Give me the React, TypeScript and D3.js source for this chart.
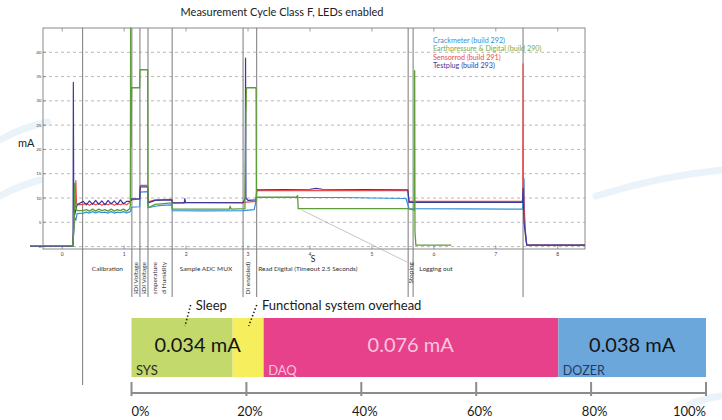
import React, { useEffect, useRef } from "react";
import * as d3 from "d3";

// DATA (time in s, current in mA)
const crackmeter: [number, number][] = [
  [-0.52, 0.15], [0.17, 0.15], [0.19, 3.5], [0.2, 6.0], [0.22, 5.4], [0.24, 6.8], [0.34, 6.9],
  [0.39, 7.1], [0.44, 6.9], [0.49, 7.2], [0.54, 6.9], [0.59, 7.2], [0.64, 7.0], [0.69, 7.1],
  [0.74, 6.9], [0.79, 7.2], [0.84, 6.9], [0.89, 7.1], [0.94, 7.0], [0.99, 7.2], [1.04, 6.9],
  [1.1, 7.2], [1.12, 8.1], [1.25, 8.2], [1.26, 11.2], [1.38, 11.3], [1.39, 8.0], [1.5, 8.3],
  [1.6, 8.5], [1.77, 8.6], [1.78, 7.4], [2.3, 7.35], [2.92, 7.4], [3.1, 7.6], [3.14, 10.1],
  [4.5, 10.1], [5.55, 9.9], [5.6, 7.8], [6.5, 7.75], [7.43, 7.7], [7.445, 10], [7.455, 14],
  [7.465, 5], [7.5, 0.3], [8.44, 0.3],
];

const earthpressure: [number, number][] = [
  [-0.52, 0.2], [0.17, 0.2], [0.19, 4], [0.2, 13], [0.205, 12.5], [0.22, 8], [0.24, 7.4],
  [0.34, 7.4], [0.39, 7.6], [0.44, 7.3], [0.49, 7.7], [0.54, 7.3], [0.59, 7.7], [0.64, 7.4],
  [0.69, 7.6], [0.74, 7.3], [0.79, 7.7], [0.84, 7.3], [0.89, 7.6], [0.94, 7.4], [0.99, 7.7],
  [1.04, 7.3], [1.09, 7.8], [1.1, 8.5], [1.105, 45], [1.112, 20.5], [1.12, 32.7],
  [1.25, 32.7], [1.255, 36.4], [1.38, 36.4], [1.385, 8.0], [1.5, 8.7], [1.77, 9.0],
  [1.78, 7.7], [2.7, 7.7], [2.71, 8.3], [2.73, 7.7], [2.95, 7.8], [2.965, 27.4], [2.975, 32.7],
  [3.13, 32.7], [3.135, 9.5], [3.14, 10.2], [3.78, 10.2], [3.8, 10.5], [3.81, 7.8],
  [5.58, 7.8], [5.685, 7.5], [5.69, 36.2], [5.695, 3], [5.71, 0.3], [6.28, 0.3],
];

const sensorrod: [number, number][] = [
  [-0.52, 0.2], [0.17, 0.2], [0.19, 5], [0.22, 13.6], [0.23, 9], [0.25, 8.6], [0.34, 8.7],
  [0.39, 8.9], [0.44, 8.5], [0.49, 8.9], [0.54, 8.6], [0.59, 8.9], [0.64, 8.5], [0.69, 8.8],
  [0.74, 8.6], [0.79, 8.9], [0.84, 8.5], [0.89, 8.8], [0.94, 8.6], [0.99, 8.9], [1.04, 8.6],
  [1.1, 9.2], [1.12, 9.6], [1.25, 9.8], [1.26, 12.6], [1.38, 12.6], [1.39, 9.2], [1.5, 9.6],
  [1.77, 9.7], [1.78, 9.0], [2.92, 9.1], [3.13, 9.3], [3.14, 11.5], [5.58, 11.5], [5.6, 9.3],
  [7.435, 9.3], [7.44, 37.6], [7.445, 14], [7.455, 9], [7.48, 2], [7.5, 0.3], [8.44, 0.3],
];

const testplug: [number, number][] = [
  [-0.52, 0.1], [0.175, 0.1], [0.18, 33.8], [0.186, 10], [0.2, 6.5], [0.24, 8.6],
  [0.34, 9.3], [0.39, 8.6], [0.44, 9.4], [0.49, 8.7], [0.54, 9.5], [0.59, 8.7], [0.64, 9.4],
  [0.69, 8.6], [0.74, 9.5], [0.79, 8.8], [0.84, 9.4], [0.89, 8.7], [0.94, 9.6], [0.99, 8.8],
  [1.04, 9.3], [1.1, 9.3], [1.12, 9.8], [1.25, 9.8], [1.26, 12.3], [1.38, 12.3], [1.39, 9.0],
  [1.5, 9.5], [1.77, 9.6], [1.78, 9.0], [1.97, 9.0], [1.98, 9.9], [1.99, 9.1], [2.92, 9.0],
  [2.955, 10], [2.96, 38.8], [2.966, 10], [3.0, 9.5], [3.13, 9.6], [3.14, 11.7], [4.0, 11.8],
  [4.1, 12.0], [4.2, 11.8], [5.58, 11.7], [5.6, 9.1], [7.43, 9.1], [7.44, 12], [7.455, 5],
  [7.5, 0.3], [8.44, 0.3],
];

const seriesNames = [
  "Crackmeter (build 292)",
  "Earthpressure & Digital (build 290)",
  "Sensorrod (build 291)",
  "Testplug (build 293)",
];
const seriesColors = ["#2f8fd8", "#5d9e36", "#ef4a4a", "#3a3a9c"];
const legendColors = ["#3b8fd3", "#7aab4a", "#ee4a4a", "#3d3d98"];

const xTicks = [0, 1, 2, 3, 4, 5, 6, 7, 8];
const yTicks = [0, 5, 10, 15, 20, 25, 30, 35, 40];

// PHASE BOUNDARIES (s)
const phaseBounds = [0.33, 1.125, 1.255, 1.385, 1.775, 2.92, 3.14, 5.585, 5.665, 7.44];
const flatLabels = [
  { text: "Calibration", t: 0.73, anchor: "middle" },
  { text: "Sample ADC MUX", t: 2.32, anchor: "middle" },
  { text: "Read Digital (Timeout 2.5 Seconds)", t: 3.165, anchor: "start" },
  { text: "Logging out", t: 5.765, anchor: "start" },
];
const rotatedLabels = [
  { text: "SDI Voltage", t: 1.19 },
  { text: "SDI Voltage", t: 1.32 },
  { text: "Temperature", t: 1.5 },
  { text: "and Humidity", t: 1.64 },
  { text: "(DI enabled)", t: 2.99 },
  { text: "Stoping", t: 5.625 },
];
// leader line (s, mA)
const leader: [number, number][] = [[3.87, 7.5], [5.57, -3.2]];

// CURRENT SHARE BAR (%)
const barNames = ["SYS", "SYS", "DAQ", "DOZER"];
const barStarts = [0, 17.6, 23, 74.3];
const barEnds = [17.6, 23, 74.3, 100];
const barColors = ["#c4d96c", "#f6ee5c", "#e8418c", "#6ca7db"];
const barValues = ["0.034 mA", "0.076 mA", "0.038 mA"];
const barValueCenters = [11.5, 48.6, 87.15];
const barValueColors = ["#151515", "#f8c6df", "#151515"];
const barTagColors = ["#2a2a2a", "#f6c3dc", "#1e3a66"];
const pctTicks = [0, 20, 40, 60, 80, 100];

export default function App() {
  const ref = useRef<SVGSVGElement>(null);

  useEffect(() => {
    const svg = d3.select(ref.current);
    svg.selectAll("*").remove();
    const font = "Lato, 'Open Sans', sans-serif";

    // BACKGROUND SWOOSHES
    const swoosh = [
      "M0,140 Q20,128 48,122",
      "M0,196 Q18,186 40,180",
      "M596,196 Q660,176 722,170",
      "M690,404 Q706,398 722,396",
    ];
    swoosh.forEach((d) =>
      svg.append("path").attr("d", d).attr("fill", "none")
        .attr("stroke", "#e2eef8").attr("stroke-width", 7).attr("stroke-linecap", "round").attr("opacity", 0.7)
    );

    // SCALES
    const x = d3.scaleLinear().domain([-0.31, 8.44]).range([43, 585]);
    const y = d3.scaleLinear().domain([-0.5, 45]).range([249, 28]);

    // TITLE
    svg.append("text").attr("x", 282).attr("y", 16).attr("text-anchor", "middle")
      .attr("font-family", font).attr("font-size", 11).attr("fill", "#222")
      .text("Measurement Cycle Class F, LEDs enabled");

    // GRID
    svg.append("g").selectAll("line").data(yTicks).join("line")
      .attr("x1", 43).attr("x2", 585).attr("y1", (d) => y(d)).attr("y2", (d) => y(d))
      .attr("stroke", "#9a9a9a").attr("stroke-width", 0.7).attr("stroke-dasharray", "3,3");

    // FRAME
    svg.append("rect").attr("x", 43).attr("y", 28).attr("width", 542).attr("height", 221)
      .attr("fill", "none").attr("stroke", "#8a8a8a").attr("stroke-width", 1);

    // X TICKS
    const xt = svg.append("g");
    xt.selectAll("line.b").data(xTicks).join("line").attr("class", "b")
      .attr("x1", (d) => x(d)).attr("x2", (d) => x(d)).attr("y1", 249).attr("y2", 245.5)
      .attr("stroke", "#777").attr("stroke-width", 0.7);
    xt.selectAll("line.t").data(xTicks).join("line").attr("class", "t")
      .attr("x1", (d) => x(d)).attr("x2", (d) => x(d)).attr("y1", 28).attr("y2", 31.5)
      .attr("stroke", "#777").attr("stroke-width", 0.7);
    xt.selectAll("text").data(xTicks).join("text")
      .attr("x", (d) => x(d)).attr("y", 256).attr("text-anchor", "middle")
      .attr("font-family", font).attr("font-size", 5).attr("fill", "#444").text((d) => d);

    // Y TICKS
    const yt = svg.append("g");
    yt.selectAll("line").data(yTicks).join("line")
      .attr("x1", 43).attr("x2", 46).attr("y1", (d) => y(d)).attr("y2", (d) => y(d))
      .attr("stroke", "#777").attr("stroke-width", 0.7);
    yt.selectAll("text").data(yTicks).join("text")
      .attr("x", 41.5).attr("y", (d) => y(d) + 1.6).attr("text-anchor", "end")
      .attr("font-family", font).attr("font-size", 4.6).attr("fill", "#444").text((d) => d);

    // AXIS TITLES
    svg.append("text").attr("x", 18).attr("y", 147).attr("font-family", font)
      .attr("font-size", 11).attr("fill", "#222").text("mA");
    svg.append("text").attr("x", 313).attr("y", 261.5).attr("text-anchor", "middle")
      .attr("font-family", font).attr("font-size", 8.5).attr("fill", "#222").text("S");

    // PHASE LINES
    svg.append("g").selectAll("line").data(phaseBounds).join("line")
      .attr("x1", (d) => x(d)).attr("x2", (d) => x(d)).attr("y1", 28)
      .attr("y2", (d, i) => (i === 0 ? 385 : 297))
      .attr("stroke", "#7a7a7a").attr("stroke-width", 1);

    // PHASE LABELS
    svg.append("g").selectAll("text").data(flatLabels).join("text")
      .attr("x", (d) => x(d.t)).attr("y", 270.5).attr("text-anchor", (d) => d.anchor)
      .attr("font-family", font).attr("font-size", 6.5).attr("fill", "#333").text((d) => d.text);

    svg.append("defs").append("clipPath").attr("id", "lblclip")
      .append("rect").attr("x", 0).attr("y", 250).attr("width", 722).attr("height", 44);
    svg.append("g").attr("clip-path", "url(#lblclip)")
      .selectAll("text").data(rotatedLabels).join("text")
      .attr("transform", (d) => `translate(${x(d.t)},262) rotate(-90)`)
      .attr("text-anchor", "end").attr("dy", "0.35em")
      .attr("font-family", font).attr("font-size", 6.5).attr("fill", "#333").text((d) => d.text);

    // LEADER
    svg.append("line")
      .attr("x1", x(leader[0][0])).attr("y1", y(leader[0][1]))
      .attr("x2", x(leader[1][0])).attr("y2", y(leader[1][1]))
      .attr("stroke", "#a0a0a0").attr("stroke-width", 0.6);

    // LINES
    const line = d3.line<[number, number]>().x((d) => x(d[0])).y((d) => y(d[1]));
    const order = [0, 2, 3, 1];
    const all = [crackmeter, earthpressure, sensorrod, testplug];
    order.forEach((i) => {
      svg.append("path").datum(all[i]).attr("fill", "none")
        .attr("stroke", seriesColors[i]).attr("stroke-width", i === 1 ? 1.3 : 1.2)
        .attr("stroke-linejoin", "round").attr("d", line);
    });

    // LEGEND
    svg.append("g").selectAll("text").data(seriesNames).join("text")
      .attr("x", 433).attr("y", (d, i) => 42.5 + i * 8.6)
      .attr("font-family", font).attr("font-size", 7.2)
      .attr("fill", (d, i) => legendColors[i]).text((d) => d);

    // SHARE BAR
    const px = d3.scaleLinear().domain([0, 100]).range([131.5, 706]);
    const bar = svg.append("g");
    bar.selectAll("rect").data(barStarts).join("rect")
      .attr("x", (d) => px(d)).attr("y", 318)
      .attr("width", (d, i) => px(barEnds[i]) - px(d)).attr("height", 59)
      .attr("fill", (d, i) => barColors[i]);
    bar.selectAll("text.v").data(barValues).join("text").attr("class", "v")
      .attr("x", (d, i) => px(barValueCenters[i])).attr("y", 352).attr("text-anchor", "middle")
      .attr("font-family", font).attr("font-size", 20)
      .attr("fill", (d, i) => barValueColors[i]).text((d) => d);
    const tagIdx = [0, 2, 3];
    bar.selectAll("text.tag").data(tagIdx).join("text").attr("class", "tag")
      .attr("x", (d) => px(barStarts[d]) + 4.5).attr("y", 375)
      .attr("font-family", font).attr("font-size", (d) => (d === 3 ? 12.5 : 13))
      .attr("fill", (d, i) => barTagColors[i]).text((d) => barNames[d]);

    // ANNOTATIONS
    const notes = [
      { text: "Sleep", tx: 11.2, top: 10.3, bottom: 9.3 },
      { text: "Functional system overhead", tx: 22.7, top: 21.8, bottom: 20.4 },
    ];
    notes.forEach((n) => {
      svg.append("text").attr("x", px(n.tx)).attr("y", 310).attr("font-family", font)
        .attr("font-size", 13).attr("fill", "#1a1a1a").text(n.text);
      svg.append("line").attr("x1", px(n.top)).attr("y1", 305).attr("x2", px(n.bottom)).attr("y2", 326)
        .attr("stroke", "#1a1a1a").attr("stroke-width", 1.6).attr("stroke-dasharray", "1.4,2.2");
    });

    // PERCENT AXIS
    const ax = svg.append("g");
    ax.append("line").attr("x1", px(0)).attr("x2", px(100)).attr("y1", 393).attr("y2", 393)
      .attr("stroke", "#8c8c8c").attr("stroke-width", 2);
    ax.selectAll("line.tk").data(pctTicks).join("line").attr("class", "tk")
      .attr("x1", (d) => px(d)).attr("x2", (d) => px(d)).attr("y1", 382).attr("y2", 396)
      .attr("stroke", "#8c8c8c").attr("stroke-width", 2);
    ax.selectAll("text").data(pctTicks).join("text")
      .attr("x", (d) => (d === 0 ? px(d) : d === 100 ? px(d) : px(d) + 3.5))
      .attr("y", 416)
      .attr("text-anchor", (d) => (d === 0 ? "start" : d === 100 ? "end" : "middle"))
      .attr("font-family", font).attr("font-size", 13).attr("fill", "#1a1a1a").text((d) => `${d}%`);
  }, []);

  return (
    <svg
      ref={ref}
      width={722}
      height={420}
      style={{ position: "absolute", left: 0, top: 0, background: "#fff" }}
    />
  );
}
